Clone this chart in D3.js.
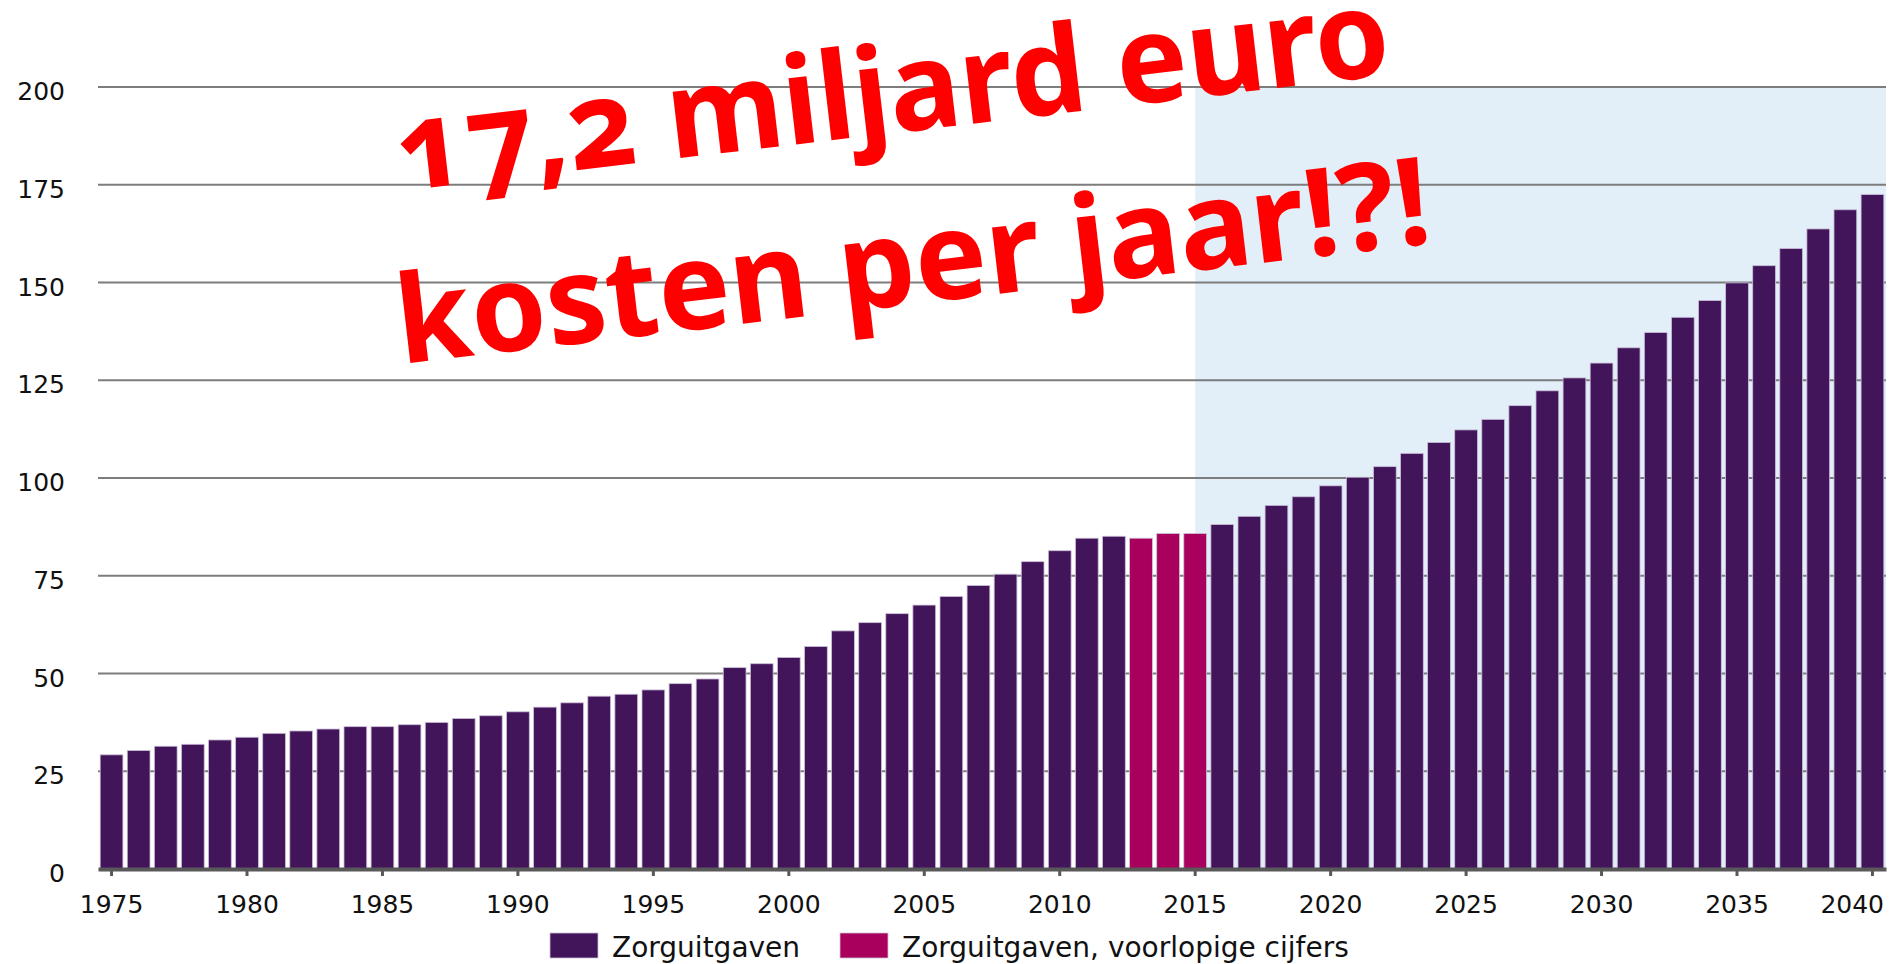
<!DOCTYPE html>
<html>
<head>
<meta charset="utf-8">
<script src="https://cdn.jsdelivr.net/npm/d3@7"></script>
<style>
  body { margin: 0; background: #fff; }
  text { font-family: Verdana, "DejaVu Sans", sans-serif; fill: #111; }
</style>
</head>
<body>
<script>
var width = 1895;
var height = 964;

// jaren (categorieen)
var years = [1975, 1976, 1977, 1978, 1979, 1980, 1981, 1982, 1983, 1984,
             1985, 1986, 1987, 1988, 1989, 1990, 1991, 1992, 1993, 1994,
             1995, 1996, 1997, 1998, 1999, 2000, 2001, 2002, 2003, 2004,
             2005, 2006, 2007, 2008, 2009, 2010, 2011, 2012, 2013, 2014,
             2015, 2016, 2017, 2018, 2019, 2020, 2021, 2022, 2023, 2024,
             2025, 2026, 2027, 2028, 2029, 2030, 2031, 2032, 2033, 2034,
             2035, 2036, 2037, 2038, 2039, 2040];

var values = [29.2, 30.3, 31.4, 31.9, 33.0, 33.7, 34.7, 35.3, 35.8, 36.4,
              36.4, 36.9, 37.5, 38.5, 39.2, 40.2, 41.4, 42.5, 44.2, 44.7,
              45.8, 47.4, 48.6, 51.5, 52.5, 54.1, 56.9, 60.9, 63.0, 65.3,
              67.5, 69.7, 72.5, 75.4, 78.6, 81.4, 84.6, 85.1, 84.6, 85.8,
              85.8, 88.1, 90.2, 93.0, 95.2, 98.0, 100.2, 102.9, 106.3, 109.1,
              112.3, 115.0, 118.5, 122.3, 125.6, 129.4, 133.3, 137.2, 141.1, 145.4,
              149.9, 154.3, 158.7, 163.7, 168.6, 172.5];

var provisionalYears = [2013, 2014, 2015];
var projectionStart = 2015;

var yTicks = [0, 25, 50, 75, 100, 125, 150, 175, 200];
var xTicks = [1975, 1980, 1985, 1990, 1995, 2000, 2005, 2010, 2015, 2020, 2025, 2030, 2035, 2040];

var legendLabels = ["Zorguitgaven", "Zorguitgaven, voorlopige cijfers"];
var annotation = ["17,2 miljard euro", "kosten per jaar!?!"];

var purple = "#42155b";
var magenta = "#a8005c";

var plotLeft = 98, plotRight = 1886, plotTop = 87, plotBottom = 869;

var svg = d3.select("body").append("svg")
    .attr("width", width)
    .attr("height", height);

var x = d3.scaleBand()
    .domain(years)
    .range([plotLeft, plotRight])
    .paddingInner(0.16)
    .paddingOuter(0.08);

var y = d3.scaleLinear()
    .domain([0, 200])
    .range([plotBottom, plotTop]);

// prognose-achtergrond
var bandStart = x(projectionStart) + x.bandwidth() / 2;
svg.append("rect")
    .attr("x", bandStart)
    .attr("y", y(200))
    .attr("width", plotRight - bandStart)
    .attr("height", y(0) - y(200))
    .attr("fill", "#e2eff8");

// gridlijnen
svg.append("g")
    .selectAll("line")
    .data(yTicks.filter(function (d) { return d > 0; }))
    .enter().append("line")
    .attr("x1", plotLeft)
    .attr("x2", plotRight)
    .attr("y1", function (d) { return y(d); })
    .attr("y2", function (d) { return y(d); })
    .attr("stroke", "#7d7d7d")
    .attr("stroke-width", 2);

// staven
svg.append("g")
    .selectAll("rect")
    .data(years)
    .enter().append("rect")
    .attr("x", function (d) { return x(d); })
    .attr("width", x.bandwidth())
    .attr("y", function (d, i) { return y(values[i]); })
    .attr("height", function (d, i) { return y(0) - y(values[i]); })
    .attr("fill", function (d) {
        return provisionalYears.indexOf(d) >= 0 ? magenta : purple;
    })
    .attr("stroke", "#cbbfd8")
    .attr("stroke-width", 0.8);

// x-as
var xAxis = svg.append("g")
    .attr("transform", "translate(0," + y(0) + ")")
    .call(d3.axisBottom(x).tickValues(xTicks).tickSize(7).tickSizeOuter(0));

xAxis.select(".domain")
    .attr("stroke", "#595959")
    .attr("stroke-width", 4);
xAxis.selectAll(".tick line")
    .attr("stroke", "#595959")
    .attr("stroke-width", 3);
xAxis.selectAll(".tick text")
    .attr("y", 44)
    .attr("dy", null)
    .style("font-size", "25px")
    .style("font-family", "Verdana, 'DejaVu Sans', sans-serif")
    .attr("fill", "#111");

// laatste label past niet gecentreerd, rechts uitlijnen
xAxis.selectAll(".tick text")
    .filter(function (d) { return d === 2040; })
    .attr("text-anchor", "end")
    .attr("x", plotRight - (x(2040) + x.bandwidth() / 2) - 2);

// y-as
var yAxis = svg.append("g")
    .attr("transform", "translate(" + plotLeft + ",0)")
    .call(d3.axisLeft(y).tickValues(yTicks).tickSize(0));

yAxis.select(".domain").remove();
yAxis.selectAll(".tick text")
    .attr("x", -33)
    .attr("dy", "0.5em")
    .style("font-size", "25px")
    .style("font-family", "Verdana, 'DejaVu Sans', sans-serif")
    .attr("fill", "#111");

// rode tekst
var note = svg.append("g");
var noteLines = [
    { x: 400, y: 191, len: 1000 },
    { x: 401, y: 364, len: 1040 }
];
note.selectAll("text")
    .data(annotation)
    .enter().append("text")
    .attr("transform", function (d, i) {
        return "translate(" + noteLines[i].x + "," + noteLines[i].y + ") rotate(-6.7)";
    })
    .attr("textLength", function (d, i) { return noteLines[i].len; })
    .attr("lengthAdjust", "spacingAndGlyphs")
    .style("font-family", "'Noto Sans', 'Open Sans', sans-serif")
    .style("font-weight", "bold")
    .style("font-size", "122px")
    .style("font-variant-numeric", "oldstyle-nums")
    .style("font-feature-settings", "'onum' 1")
    .style("fill", "#ff0000")
    .text(function (d) { return d; });

// legenda
var legendColors = [purple, magenta];
var legendX = [550, 840];
var legend = svg.append("g")
    .selectAll("g")
    .data(legendLabels)
    .enter().append("g")
    .attr("transform", function (d, i) { return "translate(" + legendX[i] + ",933)"; });

legend.append("rect")
    .attr("width", 48)
    .attr("height", 25)
    .attr("fill", function (d, i) { return legendColors[i]; })
    .attr("stroke", "#cbbfd8")
    .attr("stroke-width", 0.8);

legend.append("text")
    .attr("x", 62)
    .attr("y", 24)
    .style("font-size", "28px")
    .text(function (d) { return d; });
</script>
</body>
</html>
